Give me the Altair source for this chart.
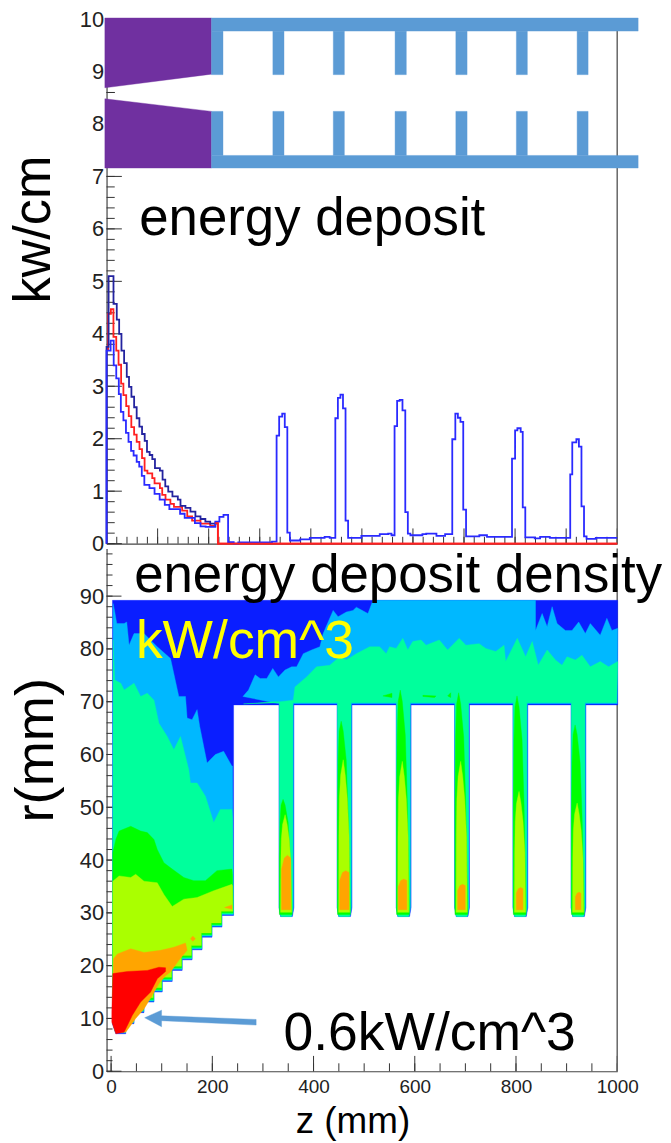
import altair as alt
import pandas as pd

FONT = "Liberation Sans"
PURPLE, BAR = "#7030a0", "#5b9bd5"
DARK, SKY, MINT, GREEN, YG, ORANGE, RED = "#0a1eff", "#00b8ff", "#00ff9c", "#00ff00", "#aaff00", "#ffa500", "#ff0000"

# ---- top panel: histograms (z in cm, kW/cm), step positions and values
UP_X = [0, 0, .4, 1.36, 2, 2.47, 2.92, 3.44, 3.96, 4.4, 4.87, 5.4, 5.9, 6.43, 6.95, 7.47, 7.92, 8.44, 8.96, 9.48, 10.45,
        10.97, 11.5, 12.08, 12.9, 13.96, 14.48, 15.45, 16.43, 17.4, 18.4, 19.35, 20.3, 21.5]
UP_V = [0, 3.75, 5.1, 4.57, 4.27, 4.0, 3.68, 3.44, 3.18, 2.99, 2.8, 2.6, 2.39, 2.23, 2.09, 1.96, 1.75, 1.69, 1.61, 1.44, 1.39,
        1.22, 1.09, .99, .9, .84, .72, .68, .61, .52, .47, .42, .38, .4]
LOW_X = [0, 0, .8, 1.4, 1.9, 2.4, 2.8, 3.3, 3.8, 4.3, 4.8, 5.3, 5.9, 6.4, 6.9, 7.4, 8.4, 9.4, 10.4, 11.4, 12.3, 14.4, 15.3, 17.3,
         18.4, 19.4, 21.3, 22.1, 22.9, 23.8, 24.9, 25.8, 32.4, 33.3, 33.8, 34.4, 34.9, 35.4, 35.9, 37.9, 39.8, 42.7, 43.7, 44.8,
         45.3, 45.8, 46.3, 46.8, 47.3, 49.9, 53.5, 55.15, 55.8, 56.4, 56.9, 57.4, 57.95, 58.5, 59.0, 59.5, 61.85, 62.6, 64.6, 66.3,
         67.7, 68.3, 68.8, 69.3, 69.85, 70.4, 73.0, 74.5, 79.4, 80.0, 80.45, 81.1, 81.5, 82, 83.85, 84.9, 86.8, 90.8, 91.2, 92.0,
         92.5, 93, 93.5, 94, 95.8, 100]
LOW_V = [0, 3.68, 3.87, 3.4, 3.15, 2.85, 2.51, 2.35, 2.11, 1.94, 1.77, 1.68, 1.56, 1.47, 1.29, 1.12, 1.06, .95, .84, .74, .66, .57, .49, .39,
         .33, .32, .42, .51, .55, .03, 0.0, .025, .04, 2.06, 2.42, 2.48, 2.22, .21, .06, .08, .11, .13, .11, 2.39,
         2.78, 2.84, 2.58, .44, .11, .15, .18, .19, .16, 2.24, 2.72, 2.74, 2.54, .6, .19, .16, .18, .19, .15, .18,
         1.99, 2.48, 2.4, 2.32, .65, .14, .16, .13, 1.62, 2.16, 2.2, 2.13, .69, .12, .1, .13, .11, 1.32, 1.93, 1.99,
         1.85, .71, .14, .09, .11, .11]
RED_X = [0, .3, .85, 1.35, 1.9, 2.35, 2.85, 3.3, 3.85, 4.35, 4.85, 5.4, 5.9, 6.45, 6.95, 7.45, 8, 8.95, 9.4, 10.45, 10.9, 11.55,
         12.5, 13.2, 14.8, 15.8, 16.75, 18.4, 20.3, 21.3, 21.8, 100]
RED_V = [3.7, 4.38, 4.47, 3.94, 3.68, 3.41, 3.05, 2.83, 2.62, 2.43, 2.22, 2.08, 1.94, 1.8, 1.63, 1.39, 1.34, 1.25, 1.15, 1.06, .93, .84,
         .76, .7, .63, .52, .44, .38, .34, .39, 0, 0]

# ---- top panel: sketch of the target
FIN_TOP_X = [(20.55, 22.8), (32.57, 34.75), (44.4, 46.57), (56.5, 58.7), (68.4, 70.6), (80.25, 82.4), (92.15, 94.3)]
BAR_X = [20.55, 104.1]
BAR_UP = [9.77, 10.02]
BAR_LOW = [7.16, 7.40]
FIN_UP = [8.94, 9.77]
FIN_LOW = [7.40, 8.24]
PURPLE_UP_X, PURPLE_UP_Y = [-.33, 20.55, 20.55, -.33], [8.69, 8.95, 10.02, 10.02]
PURPLE_LOW_X, PURPLE_LOW_Y = [-.33, 20.55, 20.55, -.33], [8.48, 8.24, 7.16, 7.16]

# ---- bottom panel: contour outlines (z in mm, r in mm)
CONE_Z = [242, 219, 219, 199.4, 199.4, 179.7, 179.7, 160, 160, 140.4, 140.4, 120.7, 120.7, 101, 101, 84.7, 84.7, 65, 65, 45.3, 45.3, 29, 29, 9.3, 2.7]
CONE_R = [29.5, 29.5, 27.3, 27.3, 25.4, 25.4, 23, 23, 21.1, 21.1, 19.1, 19.1, 17, 17, 15, 15, 13.1, 13.1, 11.1, 11.1, 9, 9, 7.1, 7.1, 9]
FIN_L = [331.8, 446.6, 563.3, 678.7, 794, 908.8]
FIN_W = 29.4
GREEN_TOP = [51.5, 66.3, 72.2, 71.7, 71.1, 65.6]
YG_TOP = [48.6, 59, 58.7, 58.7, 53, 50.8]
ORANGE_TOP = [40.9, 38, 36.4, 35.4, 34.8, 33.9]
ORANGE_LEFT = [5, 5, 4, 6, 6.6, 8.5]
ORANGE_RIGHT = [23, 23.5, 21, 21, 19.7, 19.5]
TONGUE_GREEN_DZ = [.7, .7, 2, 4, 8, 12, 18, 22, 26]
TONGUE_GREEN_F = [0, .5, .8, .95, 1, .95, .8, .5, 0]
TONGUE_YG_DZ = [3, 3.5, 4.5, 7, 12, 16, 20, 23.5, 25]
TONGUE_YG_F = [0, .5, .75, .9, 1, .9, .75, .5, 0]

SKY_CONE_Z = [4, 7.3, 11.2, 25.7, 30.9, 35.5, 45.3, 65, 91.2, 117.4, 133.8, 147, 150.2, 160, 169.9, 175.1, 189.6, 206, 222.3, 238.7, 240]
SKY_CONE_R = [88.6, 87, 84.8, 84.8, 85.1, 80.7, 82.9, 82.9, 80.4, 78.2, 71, 71, 66.9, 66.6, 68.5, 65.3, 58.4, 60, 60.6, 57.8, 57.8]
SKY_UP_Z = [260.4, 271.5, 284.6, 294.5, 307.6, 319.4, 330.5, 343.6, 356.7, 366.6, 379.7, 396.1, 412.5, 419, 438.7, 448.5, 464.9, 478, 484.6, 507.5,
            517.4, 838.6, 838.6, 851.7, 861.6, 871.4, 881.2, 897.6, 910.7, 923.9, 937, 946.8, 966.5, 979.6, 989.4, 1001]
SKY_UP_R = [71, 72.2, 75.1, 74.4, 74.4, 76.3, 74.7, 76, 76.6, 76.6, 79.1, 79.8, 80.4, 82.9, 87.3, 86.1, 87, 87.3, 87.9, 86.7,
            89.2, 89.2, 83.5, 86.7, 84.2, 88, 84.8, 83.5, 83.5, 85.1, 82.9, 84.8, 82.6, 85.8, 83.5, 83.9]
MINT_CONE_Z = [4, 7.3, 19.1, 25.7, 45.3, 58.4, 71.5, 84.7, 94.5, 110.9, 124, 137.1, 153.5, 156.8, 169.9, 186.3, 202.7, 215.8, 238.7, 240]
MINT_CONE_R = [81.7, 74.1, 73.5, 72.2, 73.5, 71, 71.6, 70.3, 65.9, 63.4, 60.9, 63.4, 57.1, 54.6, 54.6, 52.1, 47.1, 49.6, 49.6, 47.7]
MINT_UP_Z = [261.7, 281.4, 320.7, 333.8, 360, 363.3, 386.3, 405.9, 432.1, 451.8, 464.9, 484.6, 510.8, 530.5, 543.6, 550.2, 563.3, 576.4, 586.2, 596.1,
             612.5, 622.3, 648.5, 664.9, 687.8, 701, 727.2, 740.3, 760, 776.4, 779.6, 802.6, 819, 832.1, 843.9, 861.6, 878, 891, 900.9, 917.3, 930.4,
             946.8, 966.5, 982.9, 1001]
MINT_UP_R = [69.6, 69.7, 70, 70, 70.3, 72.8, 74.7, 76.6, 76.9, 78.5, 77.9, 79.1, 80.4, 80.4, 79.1, 80.4, 80.1, 82, 79.8, 81.4,
             81.7, 80.7, 81.7, 79.8, 82, 80.7, 81, 80.1, 79.5, 80.7, 77.6, 82, 78.5, 81.4, 76.9, 79.8, 77.9, 76.9, 78.5, 77.9, 78.8,
             76.6, 77.6, 76.6, 77.6]
GREEN_Z = [3.4, 9.3, 15.8, 38.8, 58.4, 71.5, 84.7, 91.2, 104.3, 120.7, 143.7, 163.3, 186.3, 209.2, 238.7, 240]
GREEN_R = [41.4, 43.9, 45.5, 46.4, 45.5, 45.2, 43.9, 42, 39.5, 38.3, 36.7, 36.1, 36.1, 38, 38.3, 37]
YG_Z = [3.4, 15.8, 38.8, 48.6, 65, 91.2, 104.3, 120.7, 143.7, 169.9, 202.7, 238.7, 240]
YG_R = [36, 37, 36.7, 37.3, 36, 35.7, 33.5, 31.2, 32.6, 32.9, 34.2, 35.4, 35.1]
ORANGE_Z = [4.7, 12.5, 38.8, 65, 97.8, 124, 147, 150.2, 133.8, 117.4, 107.6, 94.5, 81.4, 65, 48.6, 29, 9.3, 3.4]
ORANGE_R = [21.3, 22.2, 23.2, 22.5, 22.9, 23.5, 24.3, 22.9, 21, 18.8, 18.1, 16.6, 14.4, 11.8, 10, 7.4, 7.5, 10]
RED_Z = [3.4, 32.2, 71.5, 94.5, 107.6, 107.6, 91.2, 78.1, 58.4, 42, 25.7, 9.3, 1.4, 1.4]
RED_R = [18.5, 18.9, 19.1, 19.7, 19.6, 18.9, 17.5, 15, 13.1, 10.6, 7.4, 7.1, 9.3, 11.2]
SPECK1_Z, SPECK1_R = [224.3, 238.7, 238.7], [31, 31.5, 30.7]
SPECK2_Z, SPECK2_R = [156.8, 161.4, 166.6, 161.4], [25.1, 25.6, 25.1, 24.6]
GSPECK1_Z, GSPECK1_R = [537, 555, 555], [71.1, 71.6, 70.8]
GSPECK2_Z, GSPECK2_R = [616, 642, 639, 616], [71.2, 71.1, 70.8, 71]
GSPECK3_Z, GSPECK3_R = [665, 671, 671], [71.1, 71.7, 70.8]
ARROW_Z = [66.3, 99.7, 99.7, 286.6, 286.6, 99.7, 99.7]
ARROW_R = [10.13, 11.57, 10.5, 9.81, 8.74, 9.57, 8.43]

# ---- ticks
TOP_Y_MAJOR = list(range(0, 11))
TOP_Y_MINOR = [i / 5 for i in range(0, 51)] + [8.6]
TOP_X_MAJOR = list(range(0, 101, 10))
TOP_X_MINOR = list(range(0, 101, 2))
BOT_Y_MAJOR = list(range(0, 100, 10))
BOT_Y_MINOR = list(range(0, 100, 2))
BOT_X_MAJOR = list(range(0, 1001, 200))
BOT_X_MINOR = list(range(0, 1001, 50))

X1 = alt.Scale(domain=[0, 100], nice=False, zero=False)
Y1 = alt.Scale(domain=[0, 10], nice=False, zero=False)
X2 = alt.Scale(domain=[-9, 1000], nice=False, zero=False)
Y2 = alt.Scale(domain=[0, 99], nice=False, zero=False)


def axis(**kw):
    base = dict(grid=False, ticks=False, domainColor="#444", domainWidth=1.2, labelFont=FONT, labelColor="#222",
                labelOverlap=False, labelFlush=False, titleFont=FONT, titleFontWeight="normal", titleColor="#000")
    base.update(kw)
    return alt.Axis(**base)


AX1X = axis(labels=False, title=None)
AX1Y = axis(values=TOP_Y_MAJOR, labelFontSize=22, labelPadding=3, title="kw/cm", titleFontSize=52.5, titleX=-46.5, titleY=211)
AX2X = axis(values=BOT_X_MAJOR, format="d", labelFontSize=19, labelPadding=6, title="z (mm)", titleFontSize=37, titleX=247,
            titleY=62, titleBaseline="alphabetic")
AX2Y = axis(values=BOT_Y_MAJOR, labelFontSize=22, labelPadding=3, title="r(mm)", titleFontSize=54.5, titleX=-43.5, titleY=202)


def enc_x(sx, ax, f="x"):
    return alt.X(f"{f}:Q", scale=sx, axis=ax)


def enc_y(sy, ax, f="y"):
    return alt.Y(f"{f}:Q", scale=sy, axis=ax)


def poly(zs, rs, color, sx, ax, sy, ay):
    zs, rs = list(zs), list(rs)
    d = pd.DataFrame({"x": zs + zs[:1], "y": rs + rs[:1], "i": range(len(zs) + 1)})
    return alt.Chart(d).mark_line(fill=color, stroke=color, strokeWidth=0.4, clip=False).encode(
        x=enc_x(sx, ax), y=enc_y(sy, ay), order=alt.Order("i:Q"))


def step(xs, vs, color, width=1.8):
    d = pd.DataFrame({"x": xs, "y": vs, "i": range(len(xs))})
    return alt.Chart(d).mark_line(color=color, strokeWidth=width, interpolate="step-after").encode(
        x=enc_x(X1, AX1X), y=enc_y(Y1, AX1Y), order=alt.Order("i:Q"))


def hticks(vals, x0, x1, sx, ax, sy, ay):
    d = pd.DataFrame({"y": vals, "x": x0, "x2": x1})
    return alt.Chart(d).mark_rule(color="#333", strokeWidth=1).encode(
        x=enc_x(sx, ax), x2="x2:Q", y=enc_y(sy, ay))


def vticks(vals, y0, y1, sx, ax, sy, ay):
    d = pd.DataFrame({"x": vals, "y": y0, "y2": y1})
    return alt.Chart(d).mark_rule(color="#333", strokeWidth=1).encode(
        x=enc_x(sx, ax), y=enc_y(sy, ay), y2="y2:Q")


def label(txt, x, y, color, size, sx, ax, sy, ay):
    d = pd.DataFrame({"x": [x], "y": [y], "t": [txt]})
    return alt.Chart(d).mark_text(text=txt, font=FONT, fontSize=size, color=color, align="left", baseline="alphabetic").encode(
        x=enc_x(sx, ax), y=enc_y(sy, ay))


def rect(x0, x1, y0, y1):
    return poly([x0, x1, x1, x0], [y0, y0, y1, y1], BAR, X1, AX1X, Y1, AX1Y)


# ---- top panel
top_layers = [
    hticks(TOP_Y_MINOR, 0, 1.6, X1, AX1X, Y1, AX1Y),
    hticks(TOP_Y_MAJOR, 0, 3, X1, AX1X, Y1, AX1Y),
    vticks(TOP_X_MINOR, 0, .13, X1, AX1X, Y1, AX1Y),
    vticks(TOP_X_MAJOR, 0, .29, X1, AX1X, Y1, AX1Y),
    vticks([100], 0, 10, X1, AX1X, Y1, AX1Y).mark_rule(color="#666", strokeWidth=1.5),
    step(RED_X, RED_V, "#ff2020"),
    step(UP_X, UP_V, "#23239f"),
    step(LOW_X, LOW_V, "#2a2aff"),
    step(RED_X[-3:], RED_V[-3:], "#ff2020"),
    poly(PURPLE_UP_X, PURPLE_UP_Y, PURPLE, X1, AX1X, Y1, AX1Y),
    poly(PURPLE_LOW_X, PURPLE_LOW_Y, PURPLE, X1, AX1X, Y1, AX1Y),
    rect(BAR_X[0], BAR_X[1], BAR_UP[0], BAR_UP[1]),
    rect(BAR_X[0], BAR_X[1], BAR_LOW[0], BAR_LOW[1]),
]
for a, b in FIN_TOP_X:
    top_layers.append(rect(a, b, FIN_UP[0], FIN_UP[1]))
    top_layers.append(rect(a, b, FIN_LOW[0], FIN_LOW[1]))
top_layers.append(label("energy deposit", 6.4, 5.89, "#000", 53, X1, AX1X, Y1, AX1Y))
top = alt.layer(*top_layers).properties(width=513, height=527)


# ---- bottom panel
def shelf(il, ir, dr):
    zs, rs = [1001 - ir], [69.4 + dr]
    for L in reversed(FIN_L):
        R = L + FIN_W
        zs += [R - ir, R - ir, R - 3 - ir, L + 3 + il, L + il, L + il]
        rs += [69.4 + dr, 31, 29.3, 29.3, 31, 69.4 + dr]
    return zs, rs


def cone(k):
    zs = [max(z - 2 * k, 2.7 + k) for z in CONE_Z]
    rs = [r + k for r in CONE_R]
    return zs, rs


def p2(zs, rs, color):
    return poly(zs, rs, color, X2, AX2X, Y2, AX2Y)


bot_layers = [
    hticks(BOT_Y_MINOR, -9, 2.8, X2, AX2X, Y2, AX2Y),
    hticks(BOT_Y_MAJOR, -9, 20.5, X2, AX2X, Y2, AX2Y),
    vticks(BOT_X_MINOR, 0, 1.5, X2, AX2X, Y2, AX2Y),
    vticks(BOT_X_MAJOR, 0, 2.9, X2, AX2X, Y2, AX2Y),
    vticks([1000], 0, 99, X2, AX2X, Y2, AX2Y).mark_rule(color="#666", strokeWidth=1.5),
]
sz, sr = shelf(0, 0, 0)
cz, cr = cone(0)
bot_layers.append(p2([2.7, 1001] + sz + [242] + cz, [89.2, 89.2] + sr + [69.4] + cr, DARK))
cz, cr = cone(.15)
bot_layers.append(p2(SKY_CONE_Z + cz, SKY_CONE_R + cr, SKY))
sz, sr = shelf(.4, 1, .2)
bot_layers.append(p2(SKY_UP_Z + sz, SKY_UP_R + sr, SKY))
cz, cr = cone(.3)
bot_layers.append(p2(MINT_CONE_Z + cz, MINT_CONE_R + cr, MINT))
sz, sr = shelf(.8, 2, .4)
bot_layers.append(p2(MINT_UP_Z + sz, MINT_UP_R + sr, MINT))
cz, cr = cone(.5)
bot_layers.append(p2(GREEN_Z + cz, GREEN_R + cr, GREEN))
cz, cr = cone(.8)
bot_layers.append(p2(YG_Z + cz, YG_R + cr, YG))
bot_layers += [p2(ORANGE_Z, ORANGE_R, ORANGE), p2(RED_Z, RED_R, RED),
               p2(SPECK1_Z, SPECK1_R, ORANGE), p2(SPECK2_Z, SPECK2_R, ORANGE),
               p2(GSPECK1_Z, GSPECK1_R, GREEN), p2(GSPECK2_Z, GSPECK2_R, GREEN), p2(GSPECK3_Z, GSPECK3_R, GREEN)]
for n, L in enumerate(FIN_L):
    h = GREEN_TOP[n] - 29.7
    bot_layers.append(p2([L + d for d in TONGUE_GREEN_DZ], [29.7 + f * h for f in TONGUE_GREEN_F], GREEN))
    h = YG_TOP[n] - 30.1
    bot_layers.append(p2([L + d for d in TONGUE_YG_DZ], [30.1 + f * h for f in TONGUE_YG_F], YG))
    a, b, t = L + ORANGE_LEFT[n], L + ORANGE_RIGHT[n], ORANGE_TOP[n]
    h = t - 30.6
    bot_layers.append(p2([a, a, a + .3 * (b - a), a + .65 * (b - a), b, b],
                         [30.6, 30.6 + .75 * h, 30.6 + .95 * h, t, 30.6 + .95 * h, 30.6], ORANGE))
bot_layers.append(p2(ARROW_Z, ARROW_R, BAR))
bot_layers.append(label("energy deposit density", 45.6, 90.8, "#000", 53, X2, AX2X, Y2, AX2Y))
bot_layers.append(label("kW/cm^3", 49, 78.3, "#ffff00", 53.7, X2, AX2X, Y2, AX2Y))
bot_layers.append(label("0.6kW/cm^3", 340.6, 4.0, "#000", 53.7, X2, AX2X, Y2, AX2Y))
bottom = alt.layer(*bot_layers).properties(width=513, height=525)

chart = alt.vconcat(top, bottom, spacing=5, bounds="flush").configure_view(stroke=None).properties(
    padding={"left": -1, "top": -2.5, "right": 0, "bottom": 0}, background="white")

chart.save("out.html", embed_options={"renderer": "svg", "actions": False})
